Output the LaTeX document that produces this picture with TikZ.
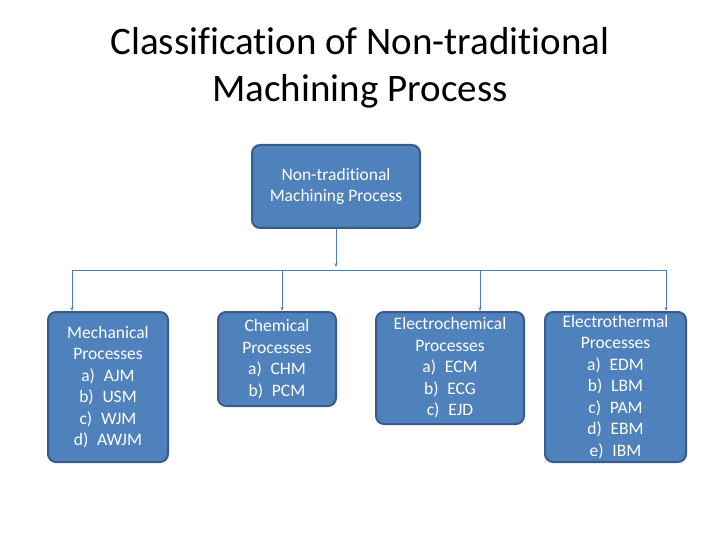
\documentclass[tikz,border=0pt]{standalone}
\usepackage{fontspec}
\setmainfont[Ligatures=NoCommon]{Carlito}
\usetikzlibrary{arrows.meta,positioning}
\definecolor{boxfill}{HTML}{4F81BD}
\definecolor{boxline}{HTML}{385D8A}
\definecolor{linkline}{HTML}{4A7EBB}

\begin{document}
\begin{tikzpicture}[x=1pt,y=-1pt]
		% Styles
		\tikzset{
			proc/.style={fill=boxfill, draw=boxline, line width=2pt, rounded corners=8pt, text=white, font=\fontsize{17.5}{21.5}\selectfont, align=center, inner sep=0pt},
			link/.style={draw=linkline, line width=1pt, -{Stealth[length=4pt,width=3pt]}}
		}
		\useasboundingbox (0,0) rectangle (720,540);

		% Title
		\node[font=\fontsize{39}{47}\selectfont, align=center] (title) at (360,68) {Classification of Non-traditional\\Machining Process};

		% Boxes
		\node[proc, minimum width=168, minimum height=83] (root) at (336,186.5) {Non-traditional\\Machining Process};
		\node[proc, minimum width=120, minimum height=150] (mech) at (108,387) {Mechanical\\Processes\\a)\enspace AJM\\b)\enspace USM\\c)\enspace WJM\\d)\enspace AWJM};
		\node[proc, minimum width=118, minimum height=94] (chem) at (277,359) {Chemical\\Processes\\a)\enspace CHM\\b)\enspace PCM};
		\node[proc, minimum width=148, minimum height=112] (echem) at (450,368) {Electrochemical\\Processes\\a)\enspace ECM\\b)\enspace ECG\\c)\enspace EJD};
		\node[proc, minimum width=141, minimum height=150] (etherm) at (615.5,387) {Electrothermal\\Processes\\a)\enspace EDM\\b)\enspace LBM\\c)\enspace PAM\\d)\enspace EBM\\e)\enspace IBM};

		% Connectors
		\coordinate (bus) at (336,267);
		\draw[link] (root) -- (bus);
		\draw[draw=linkline, line width=1pt] (72,270) -- (666,270);
		\draw[link] (72,270) -- (mech.north -| 72,0);
		\draw[link] (282,270) -- (chem.north -| 282,0);
		\draw[link] (480,270) -- (echem.north -| 480,0);
		\draw[link] (666,270) -- (etherm.north -| 666,0);

	\end{tikzpicture}
\end{document}
